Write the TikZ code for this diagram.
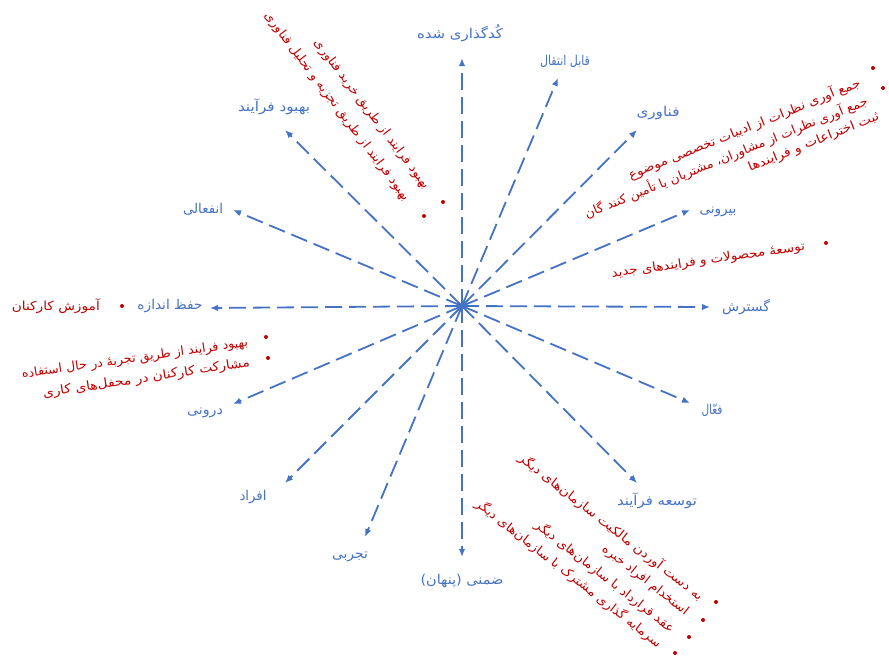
\documentclass[tikz,border=0pt]{standalone}
\usepackage{fontspec}
\usepackage{graphicx}
\newfontfamily\fa[Script=Arabic]{DejaVu Sans}
\TeXXeTstate=1
\usetikzlibrary{arrows.meta}
\definecolor{bl}{RGB}{68,114,196}
\definecolor{rd}{RGB}{192,0,0}
\newcommand{\fw}[2]{\resizebox{#1pt}{\height}{#2}}
\begin{document}
\begin{tikzpicture}[x=1pt,y=1pt,
  arr/.style={draw=bl, line width=1.8pt, dash pattern=on 17pt off 7pt, -{Latex[length=8pt,width=6.5pt]}},
  lbl/.style={text=bl, font=\fa\fontsize{13.5}{16}\selectfont, inner sep=0pt},
  rtext/.style={text=rd, font=\fa\fontsize{12.5}{15}\selectfont, inner sep=0pt, anchor=east},
  bdot/.style={fill=rd, circle, inner sep=0pt, minimum size=4pt}]
\useasboundingbox (0,0) rectangle (889,-657);
\coordinate (c) at (462,-306);
% arrow tips
\coordinate (t1) at (462,-58);
\coordinate (t2) at (558,-78);
\coordinate (t3) at (637,-130);
\coordinate (t4) at (690,-210);
\coordinate (t5) at (710,-307);
\coordinate (t6) at (690,-403);
\coordinate (t7) at (637,-483);
\coordinate (t8) at (462,-557);
\coordinate (t9) at (365,-537);
\coordinate (t10) at (285,-483);
\coordinate (t11) at (233,-404);
\coordinate (t12) at (210,-308);
\coordinate (t13) at (233,-210);
\coordinate (t14) at (285,-130);
\foreach \i in {1,...,14} \draw[arr] (c) -- (t\i);
% blue labels
\node[lbl] (l1) at (460,-33) {\fw{86}{\beginR کُدگذاری شده\endR}};
\node[lbl] (l2) at (565,-61) {\fw{50}{\beginR قابل انتقال\endR}};
\node[lbl] (l3) at (658,-113) {\fw{43}{\beginR فناوری\endR}};
\node[lbl] (l4) at (718,-212) {\fw{37}{\beginR بیرونی\endR}};
\node[lbl] (l5) at (746,-307) {\fw{48}{\beginR گسترش\endR}};
\node[lbl] (l6) at (712,-410) {\fw{21}{\beginR فعّال\endR}};
\node[lbl] (l7) at (657,-501) {\fw{80}{\beginR توسعه فرآیند\endR}};
\node[lbl] (l8) at (462,-581) {\fw{83}{\beginR ضمنی (پنهان)\endR}};
\node[lbl] (l9) at (350,-557) {\fw{36}{\beginR تجربی\endR}};
\node[lbl] (l10) at (253,-497) {\fw{27}{\beginR افراد\endR}};
\node[lbl] (l11) at (205,-413) {\fw{36}{\beginR درونی\endR}};
\node[lbl] (l12) at (170,-306) {\fw{65}{\beginR حفظ اندازه\endR}};
\node[lbl] (l13) at (203,-209) {\fw{40}{\beginR انفعالی\endR}};
\node[lbl] (l14) at (274,-107) {\fw{72}{\beginR بهبود فرآیند\endR}};
% red texts
\node[rtext, rotate=-53] (ra1) at (427,-188) {\fw{184}{\beginR بهبود فرایند از طریق خرید فناوری\endR}};
\node[rtext, rotate=-53] (ra2) at (407,-200) {\fw{233}{\beginR بهبود فرایند از طریق تجزیه و تحلیل فناوری\endR}};
\node[bdot] (da1) at (443,-202) {};
\node[bdot] (da2) at (424,-216) {};
\node[rtext, rotate=22] (rb1) at (860,-82) {\fw{249}{\beginR جمع آوری نظرات از ادبیات تخصصی موضوع\endR}};
\node[rtext, rotate=22] (rb2) at (867,-100) {\fw{304}{\beginR جمع آوری نظرات از مشاوران، مشتریان یا تأمین کنند گان\endR}};
\node[rtext, rotate=22] (rb3) at (879,-116) {\fw{140}{\beginR ثبت اختراعات و فرایندها\endR}};
\node[bdot] (db1) at (873,-68) {};
\node[bdot] (db2) at (883,-88) {};
\node[bdot] (db3) at (893,-108) {};
\node[rtext, rotate=8] (rc1) at (805,-247) {\fw{195}{\beginR توسعهٔ محصولات و فرایندهای جدید\endR}};
\node[bdot] (dc1) at (826,-243) {};
\node[rtext] (rd1) at (100,-306) {\fw{88}{\beginR آموزش کارکنان\endR}};
\node[bdot] (dd1) at (122,-306) {};
\node[rtext, rotate=8] (re1) at (248,-343) {\fw{228}{\beginR بهبود فرایند از طریق تجربهٔ در حال استفاده\endR}};
\node[rtext, rotate=8.5] (re2) at (250,-363) {\fw{209}{\beginR مشارکت کارکنان در محفل‌های کاری\endR}};
\node[bdot] (de1) at (266,-337) {};
\node[bdot] (de2) at (268,-358) {};
\node[rtext, rotate=-38] (rf1) at (702,-598) {\fw{230}{\beginR به دست آوردن مالکیت سازمان‌های دیگر\endR}};
\node[rtext, rotate=-38] (rf2) at (687,-613) {\fw{106}{\beginR استخدام افراد خبره\endR}};
\node[rtext, rotate=-38] (rf3) at (673,-630) {\fw{173}{\beginR عقد قرارداد با سازمان‌های دیگر\endR}};
\node[rtext, rotate=-38] (rf4) at (660,-645) {\fw{232}{\beginR سرمایه گذاری مشترک با سازمان‌های دیگر\endR}};
\node[bdot] (df1) at (716,-602) {};
\node[bdot] (df2) at (703,-620) {};
\node[bdot] (df3) at (689,-637) {};
\node[bdot] (df4) at (675,-653) {};
\end{tikzpicture}
\end{document}
